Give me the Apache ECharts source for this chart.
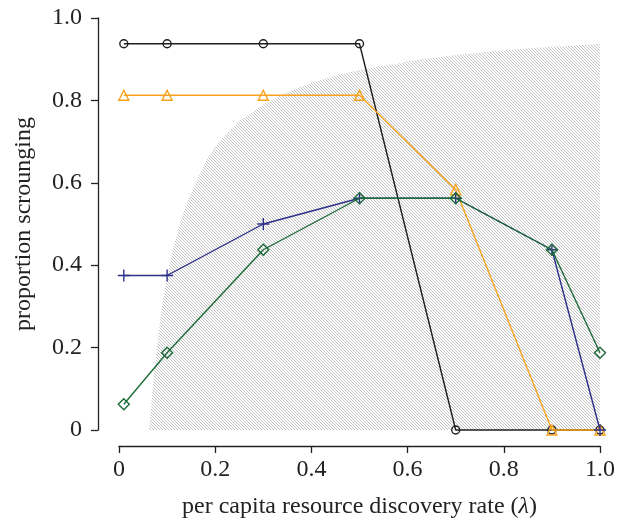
<!DOCTYPE html>
<html>
<head>
<meta charset="utf-8">
<script src="https://cdn.jsdelivr.net/npm/echarts@6/dist/echarts.min.js"></script>
<style>html,body{margin:0;padding:0;background:#fff}#c{width:628px;height:524px}</style>
</head>
<body>
<div id="c"></div>
<script>
// discovery rates
const xValues = [0.01, 0.1, 0.3, 0.5, 0.7, 0.9, 1.0];
// proportion scrounging per series
const blackCircles = [0.9375, 0.9375, 0.9375, 0.9375, 0, 0, 0];
const orangeTriangles = [0.8125, 0.8125, 0.8125, 0.8125, 0.5833, 0, 0];
const bluePlus = [0.375, 0.375, 0.5, 0.5625, 0.5625, 0.4375, 0];
const greenDiamonds = [0.0625, 0.1875, 0.4375, 0.5625, 0.5625, 0.4375, 0.1875];
// hatched region boundary
const hatchX = [0.062, 0.065, 0.07, 0.075, 0.08, 0.085, 0.092, 0.1, 0.105, 0.11, 0.12, 0.13, 0.148, 0.16, 0.18, 0.195, 0.22, 0.25, 0.3, 0.35, 0.4, 0.45, 0.5, 0.584, 0.6, 0.7, 0.8, 0.85, 0.9, 1.0];
const hatchY = [0, 0.03, 0.1, 0.16, 0.21, 0.26, 0.32, 0.37, 0.4, 0.43, 0.47, 0.515, 0.57, 0.6, 0.65, 0.68, 0.715, 0.75, 0.79, 0.82, 0.843, 0.86, 0.874, 0.89, 0.895, 0.91, 0.921, 0.926, 0.93, 0.937];
const xTickLabels = ['0', '0.2', '0.4', '0.6', '0.8', '1.0'];
const yTickLabels = ['0', '0.2', '0.4', '0.6', '0.8', '1.0'];

const pair = (xs, ys) => xs.map((x, i) => [x, ys[i]]);

const tile = document.createElement('canvas');
tile.width = 3; tile.height = 3;
const tctx = tile.getContext('2d');
tctx.fillStyle = '#ffffff';
tctx.fillRect(0, 0, 3, 3);
tctx.fillStyle = '#c2c2c2';
for (let i = 0; i < 3; i++) tctx.fillRect(i, i, 1, 1);

const FONT = '"Liberation Serif", "Times New Roman", Times, serif';
const AX = '#222';

function lineSeries(name, data, color, symbol, size, z) {
  return {
    name, type: 'line', data: pair(xValues, data), z,
    symbol, symbolSize: size, clip: false,
    lineStyle: { color, width: 1.4 },
    itemStyle: { color: 'rgba(0,0,0,0)', borderColor: color, borderWidth: 1.4 },
    emphasis: { disabled: true }
  };
}

const chart = echarts.init(document.getElementById('c'), null, { renderer: 'canvas' });
chart.setOption({
  animation: false,
  grid: { left: 119, right: 28, top: 18, bottom: 91 },
  xAxis: {
    type: 'value', min: 0, max: 1, interval: 0.2, offset: 16,
    axisLine: { show: true, onZero: false, lineStyle: { color: AX, width: 1.3 } },
    axisTick: { show: true, length: 7, lineStyle: { color: AX, width: 1.3 } },
    splitLine: { show: false },
    axisLabel: { margin: 12, color: AX, fontFamily: FONT, fontSize: 24,
      formatter: v => xTickLabels[Math.round(v / 0.2)] },
    name: '{n|per capita resource discovery rate (}{i|λ}{n|)}',
    nameLocation: 'middle', nameGap: 49,
    nameTextStyle: {
      rich: {
        n: { fontFamily: FONT, fontSize: 24, color: AX },
        i: { fontFamily: FONT, fontSize: 24, color: AX, fontStyle: 'italic' }
      }
    }
  },
  yAxis: {
    type: 'value', min: 0, max: 1, interval: 0.2, offset: 21,
    axisLine: { show: true, onZero: false, lineStyle: { color: AX, width: 1.3 } },
    axisTick: { show: true, length: 7, lineStyle: { color: AX, width: 1.3 } },
    splitLine: { show: false },
    axisLabel: { margin: 16, color: AX, fontFamily: FONT, fontSize: 24,
      formatter: v => yTickLabels[Math.round(v / 0.2)] },
    name: 'proportion scrounging', nameLocation: 'middle', nameGap: 62,
    nameTextStyle: { fontFamily: FONT, fontSize: 24, color: AX }
  },
  series: [
    {
      type: 'line', data: pair(hatchX, hatchY), z: 1, symbol: 'none',
      lineStyle: { width: 0 }, silent: true,
      areaStyle: { origin: 'start', opacity: 1, color: { image: tile, repeat: 'repeat' } }
    },
    lineSeries('black', blackCircles, '#1e1e1e', 'circle', 8, 2),
    lineSeries('orange', orangeTriangles, '#F7A21B', 'triangle', 10, 3),
    lineSeries('blue', bluePlus, '#2D3088', 'path://M0,5H10M5,0V10', 12, 4),
    lineSeries('green', greenDiamonds, '#1D6B3A', 'diamond', 11, 5)
  ]
});
</script>
</body>
</html>
